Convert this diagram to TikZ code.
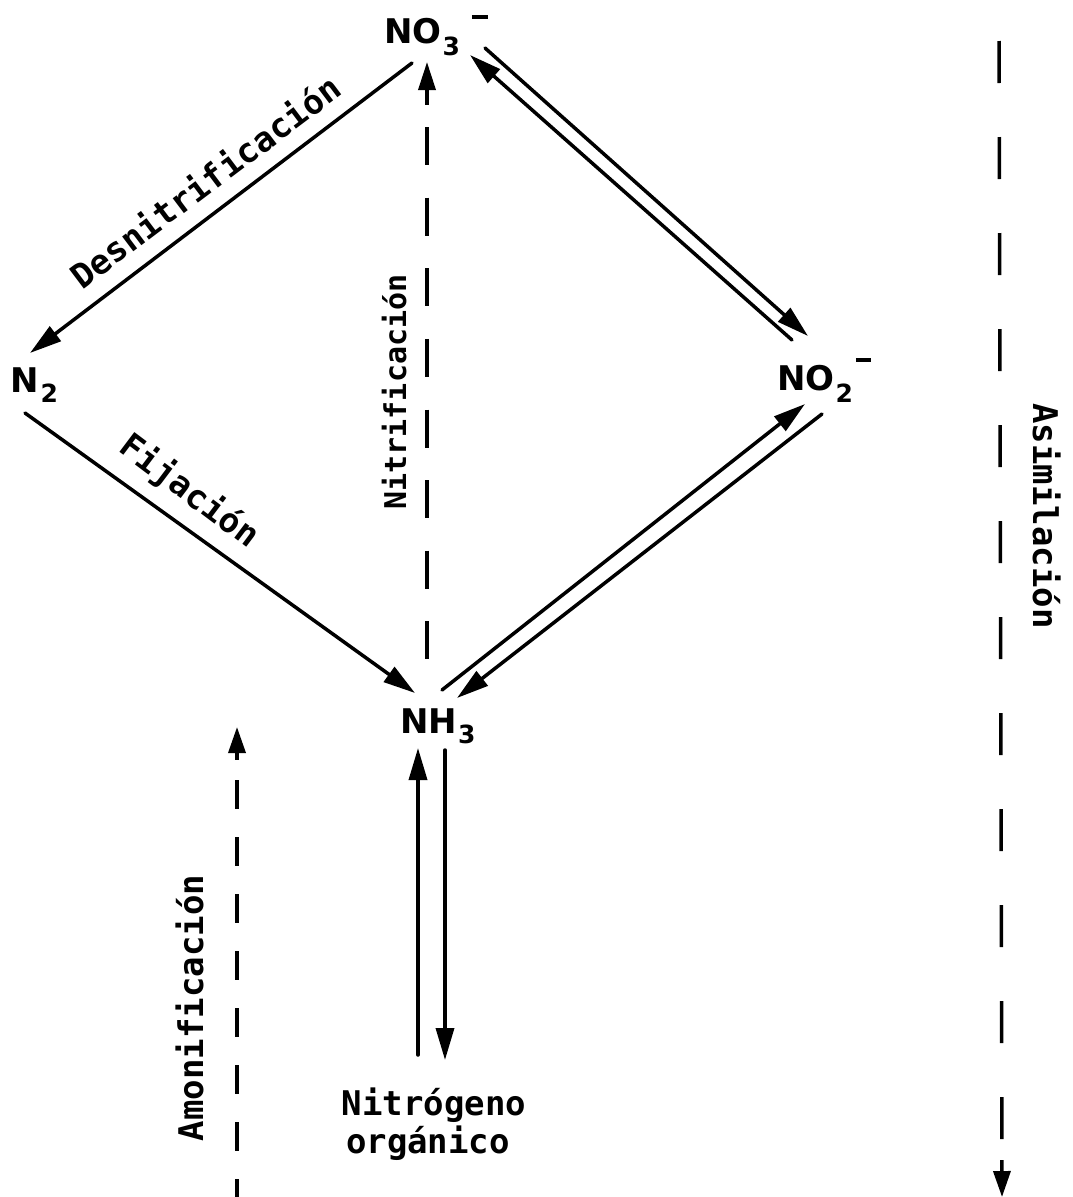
\documentclass[tikz,border=0pt]{standalone}
\usepackage{fontspec}
\setmainfont{DejaVu Sans}
\newfontfamily\monofnt{DejaVu Sans Mono}
\usetikzlibrary{arrows.meta}
\newcommand\subsz{\fontsize{25}{25}\selectfont}
\tikzset{
  ln/.style={line width=3.5pt, line cap=round},
  bigtip/.style={-{Triangle[length=32pt,width=18pt]}},
  smalltip/.style={-{Triangle[length=26pt,width=17pt]}},
  dashln/.style={line width=3.5pt, line cap=butt},
  formula/.style={font=\bfseries\fontsize{34}{40}\selectfont, inner sep=0pt, anchor=base west},
  word/.style={font=\monofnt\bfseries\fontsize{34}{40}\selectfont, inner sep=0pt, anchor=base},
}
\begin{document}
\begin{tikzpicture}[x=1pt,y=-1pt]
\fill[white] (0,0) rectangle (1073,1197);
\useasboundingbox (0,0) rectangle (1073,1197);

% species
\node[formula] (NO3) at (384,43) {NO\kern1pt\raisebox{-12pt}{\subsz 3}\kern12pt\raisebox{24.5pt}{\rule{16pt}{3.5pt}}};
\node[formula] (N2) at (10,392) {N\kern2pt\raisebox{-10pt}{\subsz 2}};
\node[formula] (NO2) at (777,390) {NO\kern1pt\raisebox{-12pt}{\subsz 2}\kern3pt\raisebox{28.5pt}{\rule{15pt}{3.5pt}}};
\node[formula] (NH3) at (400,733) {NH\kern1pt\raisebox{-10pt}{\subsz 3}};
\node[word] (org1) at (434,1115) {Nitrógeno};
\node[word] (org2) at (428,1153) {orgánico};

% process labels
\node[word, rotate=37] (lDes) at (213,192) {Desnitrificación};
\node[word, rotate=-37] (lFij) at (183,500) {Fijación};
\node[word, rotate=90, font=\monofnt\bfseries\fontsize{30}{34}\selectfont] (lNit) at (406,392) {Nitrificación};
\node[word, rotate=90] (lAmo) at (203,1008) {Amonificación};
\node[word, rotate=-90] (lAsi) at (1033,516) {Asimilación};

% connector end points
\coordinate (desA) at (412,63);  \coordinate (desB) at (30,353);
\coordinate (fijA) at (25,413);  \coordinate (fijB) at (415,693);
\coordinate (nitTip) at (427,62); \coordinate (nitEnd) at (427,660);
\coordinate (p1a) at (792,340);  \coordinate (p1b) at (470,55);
\coordinate (p2a) at (485,48);   \coordinate (p2b) at (808,336);
\coordinate (q1a) at (442,690);  \coordinate (q1b) at (805,404);
\coordinate (q2a) at (822,414);  \coordinate (q2b) at (457,698);
\coordinate (r1a) at (418,1055); \coordinate (r1b) at (418,748);
\coordinate (r2a) at (445,750);  \coordinate (r2b) at (445,1060);
\coordinate (amoTip) at (237,727); \coordinate (amoEnd) at (237,1197);
\coordinate (asiTop) at (999,41);  \coordinate (asiTip) at (1002,1197);

% solid arrows
\draw[ln, bigtip] (desA) -- (desB);
\draw[ln, bigtip] (fijA) -- (fijB);
\draw[ln, bigtip] (p1a) -- (p1b);
\draw[ln, bigtip] (p2a) -- (p2b);
\draw[ln, bigtip] (q1a) -- (q1b);
\draw[ln, bigtip] (q2a) -- (q2b);
\draw[ln, bigtip] (r1a) -- (r1b);
\draw[ln, bigtip] (r2a) -- (r2b);

% dashed arrows
\draw[dashln, {Triangle[length=28pt,width=17pt]}-,
  dash pattern=on 16pt off 22pt on 38pt off 32.6pt on 38pt off 32.6pt on 38pt off 32.6pt on 38pt off 32.6pt on 38pt off 32.6pt on 38pt off 32.6pt on 38pt off 32.6pt on 38pt off 60pt]
  (nitTip) -- (nitEnd);
\draw[dashln, {Triangle[length=26pt,width=17pt]}-,
  dash pattern=on 8pt off 20pt on 29pt off 28pt on 29pt off 28pt on 29pt off 28pt on 29pt off 28pt on 29pt off 28pt on 29pt off 28pt on 29pt off 28pt on 29pt off 28pt]
  (amoTip) -- (amoEnd);
\draw[dashln, smalltip,
  dash pattern=on 42pt off 54pt on 42pt off 54pt on 42pt off 54pt on 42pt off 54pt on 42pt off 54pt on 42pt off 54pt on 42pt off 54pt on 42pt off 54pt on 42pt off 54pt on 42pt off 54pt on 42pt off 54pt on 42pt off 21pt on 12pt off 100pt]
  (asiTop) -- (asiTip);
\end{tikzpicture}
\end{document}
